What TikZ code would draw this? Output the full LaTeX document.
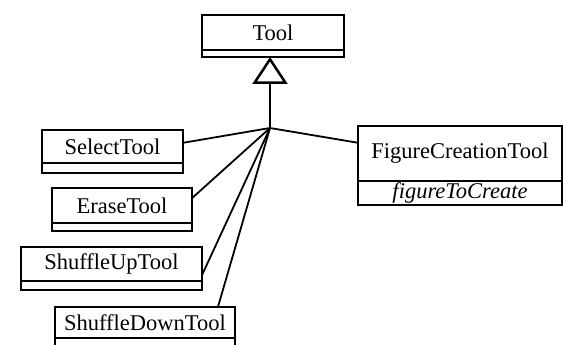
\documentclass[tikz,border=0pt]{standalone}
\usepackage{fontspec}
\setmainfont{Liberation Serif}
\usetikzlibrary{arrows.meta,positioning}

\begin{document}
\begin{tikzpicture}[x=1pt,y=-1pt,line width=1.8pt,font=\fontsize{22.5}{27}\selectfont,
    cls/.style={draw,anchor=north west,inner sep=0pt,outer sep=0pt},
    attr/.style={draw,inner sep=0pt,outer sep=0pt,below=0pt of #1}]
        \useasboundingbox (0,0) rectangle (563,345);
        \clip (0,0) rectangle (563,345);
        \node[cls,minimum width=142pt,minimum height=35pt] (tool) at (202,15) {Tool};
        \node[attr=tool,minimum width=142pt,minimum height=7pt] (toolattr) {};
        \node[cls,minimum width=141pt,minimum height=33pt] (select) at (42,130) {SelectTool};
        \node[attr=select,minimum width=141pt,minimum height=10pt] (selectattr) {};
        \node[cls,minimum width=140pt,minimum height=35pt] (erase) at (52,188) {EraseTool};
        \node[attr=erase,minimum width=140pt,minimum height=8pt] (eraseattr) {};
        \node[cls,minimum width=181pt,minimum height=34pt] (shup) at (21,247) {ShuffleUpTool};
        \node[attr=shup,minimum width=181pt,minimum height=9pt] (shupattr) {};
        \node[cls,minimum width=180pt,minimum height=31pt] (shdown) at (55,307) {ShuffleDownTool};
        \node[attr=shdown,minimum width=180pt,minimum height=12pt] (shdownattr) {};
        \node[cls,minimum width=204pt,minimum height=55pt] (figtool) at (358,126) {FigureCreationTool};
        \node[attr=figtool,minimum width=204pt,minimum height=24pt] (figattr) {\itshape figureToCreate};
        \coordinate (hub) at (270,128);
        \draw[-{Triangle[open,width=35pt,length=27pt,line width=2.5pt]}] (hub) -- (hub |- toolattr.south);
        \draw (hub) -- (select.3);
        \draw (hub) -- (erase.6);
        \draw (hub) -- (shup.-7);
        \draw (hub) -- (shdown.12);
        \draw (hub) -- (figtool.174);
      \end{tikzpicture}
\end{document}
